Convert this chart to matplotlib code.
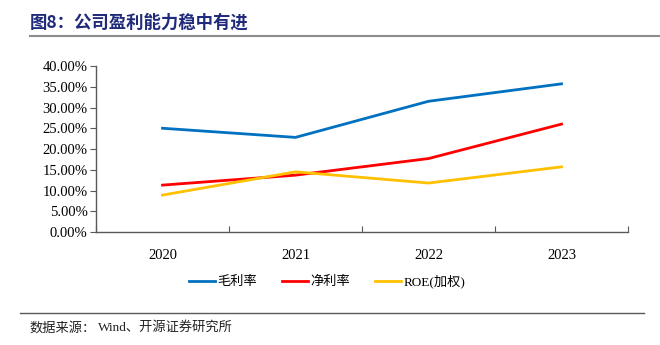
import matplotlib.pyplot as plt
import numpy as np

# 数据：毛利率、净利率、ROE(加权)，单位 %
years = ['2020', '2021', '2022', '2023']
gross_margin = [25.0, 22.8, 31.5, 35.7]
net_margin = [11.3, 13.7, 17.7, 26.0]
roe = [8.9, 14.5, 11.8, 15.7]
yticks = [0, 5, 10, 15, 20, 25, 30, 35, 40]

cjk = ['Noto Sans CJK SC', 'DejaVu Sans']
serif = ['Liberation Serif', 'Noto Sans CJK SC']

fig = plt.figure(figsize=(6.6, 3.45), dpi=100)
ax = fig.add_axes([0.1455, 0.3275, 0.806, 0.4812])

x = np.arange(len(years)) + 0.5
ax.plot(x, gross_margin, color='#0070C0', lw=2, label='毛利率')
ax.plot(x, net_margin, color='#FF0000', lw=2, label='净利率')
ax.plot(x, roe, color='#FFC000', lw=2, label='ROE(加权)')

ax.set_xlim(0, len(years))
ax.set_ylim(0, 40)
ax.set_yticks(yticks)
ax.set_yticklabels(['%.2f%%' % v for v in yticks], family=serif, fontsize=10.5)

# 类别边界处画刻度，标签放在中间
ax.set_xticks(np.arange(len(years) + 1))
ax.set_xticklabels([])
ax.set_xticks(x, minor=True)
ax.set_xticklabels(years, minor=True, family=serif, fontsize=10.5)
ax.tick_params(axis='x', which='major', direction='in', length=4, color='#595959')
ax.tick_params(axis='x', which='minor', length=0, pad=12)
ax.tick_params(axis='y', direction='out', length=4, color='#595959', pad=2)

for s in ['top', 'right']:
    ax.spines[s].set_visible(False)
for s in ['left', 'bottom']:
    ax.spines[s].set_color('#595959')
    ax.spines[s].set_linewidth(1)

leg = ax.legend(loc='upper center', bbox_to_anchor=(0.434, -0.185), ncol=3, frameon=False,
                handlelength=2.0, handletextpad=0.15, columnspacing=1.9,
                prop={'family': serif, 'size': 9.5})
for t in leg.get_texts():
    t.set_family(serif)

# 标题与页脚
fig.text(0.045, 0.935, '图8：公司盈利能力稳中有进', family=cjk, fontsize=12.5,
         fontweight='bold', color='#1F2A7A', va='center')
fig.add_artist(plt.Line2D([0.045, 1.0], [0.897, 0.897], color='#8C8C8C', lw=1.5))
fig.add_artist(plt.Line2D([0.03, 0.975], [0.093, 0.093], color='#595959', lw=1))
fig.text(0.045, 0.05, '数据来源：', family=cjk, fontsize=9.5, color='#222222', va='center')
fig.text(0.148, 0.05, 'Wind、开源证券研究所', family=serif, fontsize=9.5,
         color='#222222', va='center')

fig.savefig('out.png', dpi=100)
